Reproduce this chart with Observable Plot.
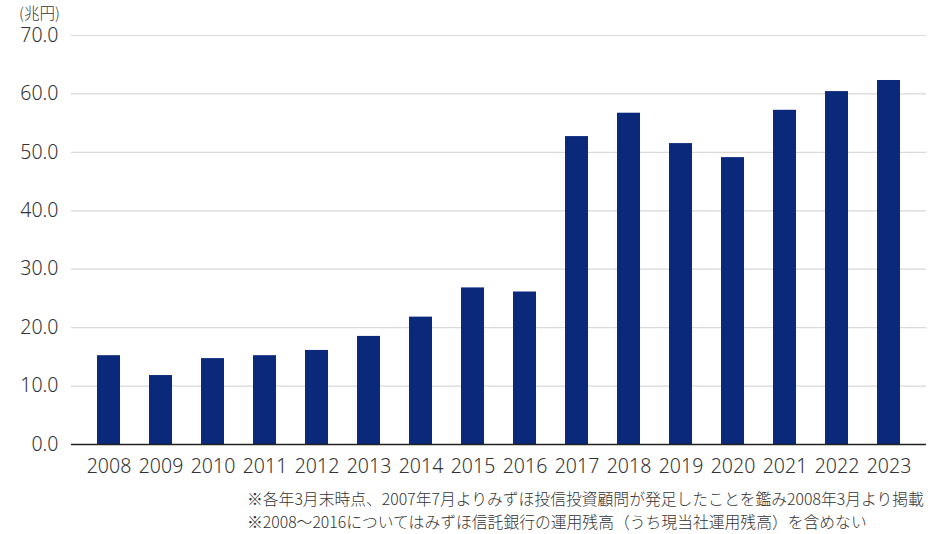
<!DOCTYPE html>
<html><head><meta charset="utf-8">
<script src="https://cdn.jsdelivr.net/npm/d3@7"></script>
<script src="https://cdn.jsdelivr.net/npm/@observablehq/plot@0.6"></script>
<style>
body{margin:0;background:#fff;font-family:"Noto Sans CJK JP","Noto Sans",sans-serif;}
#wrap{position:relative;width:941px;height:534px;}
#unit{position:absolute;left:19px;top:3px;font-size:15.5px;line-height:18px;color:#333;font-weight:300;}
#notes{position:absolute;left:247px;top:487px;font-size:15.8px;color:#333;line-height:23px;white-space:nowrap;font-weight:300;}
svg text{font-weight:300;}
</style></head><body>
<div id="wrap"><div id="unit">(兆円)</div><div id="chart"></div>
<div id="notes"><div>※各年3月末時点、2007年7月よりみずほ投信投資顧問が発足したことを鑑み2008年3月より掲載</div><div>※2008～2016についてはみずほ信託銀行の運用残高（うち現当社運用残高）を含めない</div></div></div>
<script>
const years = ["2008","2009","2010","2011","2012","2013","2014","2015","2016","2017","2018","2019","2020","2021","2022","2023"];
const values = [15.2,11.8,14.7,15.2,16.1,18.5,21.8,26.8,26.1,52.7,56.7,51.5,49.1,57.2,60.4,62.3];
const yTicks = [0,10,20,30,40,50,60,70];
const data = years.map((y,i)=>({year:y,value:values[i]}));
const chart = Plot.plot({
  width:941, height:480,
  marginLeft:71, marginRight:15, marginTop:35, marginBottom:36,
  style:{fontFamily:'"Noto Sans","Noto Sans CJK JP",sans-serif',fontSize:"19.5px",color:"#333",background:"#fff"},
  x:{domain:years, paddingInner:0.56, paddingOuter:0.28, insetLeft:11, insetRight:11, label:null, tickSize:0, tickPadding:15},
  y:{domain:[0,70], ticks:yTicks, label:null, tickSize:0, tickPadding:13, tickFormat:d=>d.toFixed(1)},
  marks:[
    Plot.ruleY(yTicks.filter(d=>d>0),{stroke:"#d9d9d9",strokeWidth:1.2}),
    Plot.barY(data,{x:"year",y:"value",fill:"#0a297b"}),
    Plot.ruleY([0],{stroke:"#222",strokeWidth:1.5})
  ]
});
document.getElementById("chart").appendChild(chart);
</script></body></html>
